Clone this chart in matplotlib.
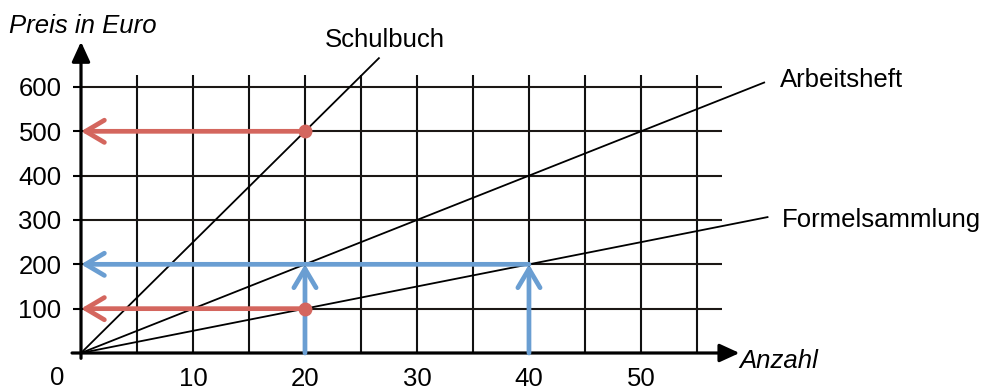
import matplotlib.pyplot as plt

plt.rcParams['font.family'] = ['Liberation Sans', 'DejaVu Sans']

# Preis pro Stueck und wie weit die Geraden gezeichnet sind
produkte = ['Schulbuch', 'Arbeitsheft', 'Formelsammlung']
preis_pro_stueck = [25, 10, 5]
x_ende = [26.6, 61.0, 61.3]

# Ablesungen (rot: Preis bei 20 Stueck, blau: Anzahl bei 200 Euro)
rot_x = [20, 20]
rot_y = [500, 100]
blau_x = [20, 40]
blau_y = [200, 200]

y_ticks = [100, 200, 300, 400, 500, 600]
x_ticks = [10, 20, 30, 40, 50]
x_gitter = [5, 10, 15, 20, 25, 30, 35, 40, 45, 50, 55]

rot = '#d4665e'
blau = '#6a9ed2'

fig = plt.figure(figsize=(9.89, 3.9), dpi=100)
ax = fig.add_axes([81/989, 37/390, 640.6/989, 278/390])
ax.set_xlim(0, 57.2)
ax.set_ylim(0, 627)
for s in ax.spines.values():
    s.set_visible(False)

# Gitter
ax.vlines(x_gitter, 0, 627, color='#111111', lw=1.5, zorder=1)
ax.hlines(y_ticks, 0, 57.2, color='#1c1815', lw=1.5, zorder=1)

ax.set_yticks(y_ticks)
ax.set_yticklabels([str(v) for v in y_ticks])
ax.set_xticks(x_ticks)
ax.set_xticklabels([str(v) for v in x_ticks])
ax.tick_params(axis='y', length=6, width=1.5, pad=8, labelsize=18.5)
ax.tick_params(axis='x', length=0, pad=10, labelsize=18.5)

# Achsen mit Pfeilspitzen
achse = dict(arrowstyle='-|>,head_length=1.2,head_width=0.55', color='k',
             lw=2.3, mutation_scale=10, shrinkA=0, shrinkB=0)
ax.annotate('', xy=(58.8, 0), xytext=(-0.8, 0), arrowprops=achse,
            annotation_clip=False, zorder=5)
ax.annotate('', xy=(0, 702), xytext=(0, -12), arrowprops=achse,
            annotation_clip=False, zorder=5)

# Geraden
for name, p, xe in zip(produkte, preis_pro_stueck, x_ende):
    ax.plot([0, xe], [0, p * xe], color='k', lw=1.3, clip_on=False, zorder=2)

# farbige Ablesepfeile
pfeil = dict(lw=3.4, mutation_scale=10, shrinkA=0, shrinkB=0,
             arrowstyle='->,head_length=1.35,head_width=0.8',
             capstyle='round', joinstyle='round')
for x, y in zip(blau_x, blau_y):
    ax.annotate('', xy=(x, y), xytext=(x, 0),
                arrowprops=dict(pfeil, color=blau), zorder=6)
ax.annotate('', xy=(0, blau_y[1]), xytext=(blau_x[1], blau_y[1]),
            arrowprops=dict(pfeil, color=blau), zorder=6)
for x, y in zip(rot_x, rot_y):
    ax.annotate('', xy=(0, y), xytext=(x, y),
                arrowprops=dict(pfeil, color=rot), zorder=7)
ax.plot(rot_x, rot_y, 'o', color=rot, ms=9, zorder=8)

# Beschriftungen
fs = 18.5
ax.text(-6.4, 722, 'Preis in Euro', fontsize=fs, style='italic', va='baseline')
ax.text(58.8, -34, 'Anzahl', fontsize=fs, style='italic', va='baseline')
ax.text(-2.1, -72, '0', fontsize=18.5, ha='center', va='baseline')
ax.text(21.8, 690, produkte[0], fontsize=fs, va='baseline')
ax.text(62.4, 600, produkte[1], fontsize=fs, va='baseline')
ax.text(62.6, 284, produkte[2], fontsize=fs, va='baseline')

fig.savefig('out.png', dpi=100)
